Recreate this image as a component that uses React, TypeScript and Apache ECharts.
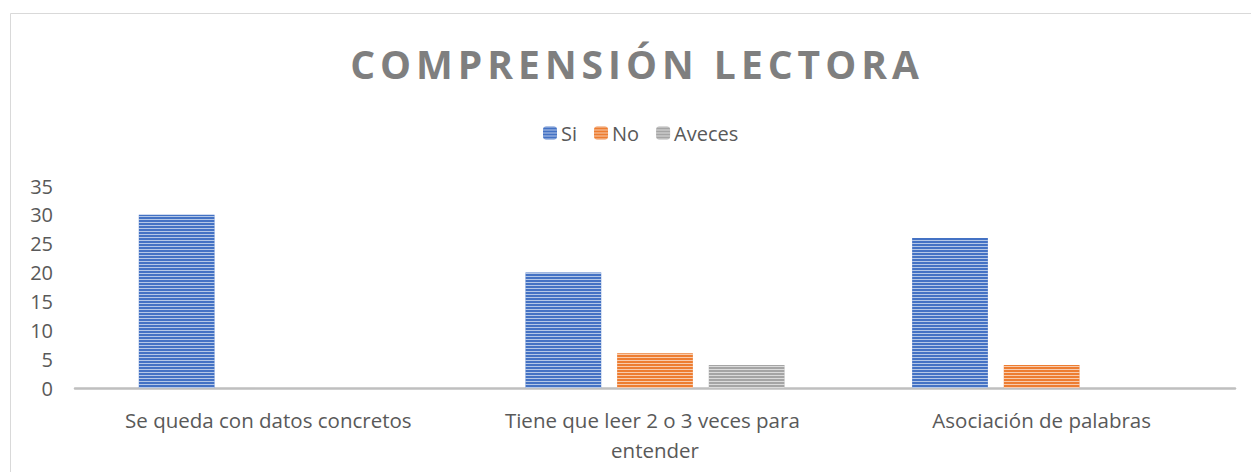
import React, { useEffect, useRef } from "react";
import * as echarts from "echarts";

const TITLE = "COMPRENSIÓN LECTORA";
const categories = [
  "Se queda con datos concretos",
  "Tiene que leer 2 o 3 veces para entender",
  "Asociación de palabras",
];
const seriesNames = ["Si", "No", "Aveces"];
const siValues = [30, 20, 26];
const noValues = [0, 6, 4];
const avecesValues = [0, 4, 0];
const seriesColors = ["#4472c4", "#ed7d31", "#a5a5a5"];
const yTicks = { min: 0, max: 35, interval: 5 };

const FONT = "'Open Sans', sans-serif";

export default function App() {
  const ref = useRef<HTMLDivElement>(null);
  useEffect(() => {
    document.body.style.margin = "0";
    if (!ref.current) return;
    const chart = echarts.init(ref.current, undefined, { renderer: "svg" });
    const decal = {
      symbol: "rect",
      symbolSize: 1,
      dashArrayX: [1, 0],
      dashArrayY: [1, 2],
      color: "rgba(255,255,255,0.6)",
      rotation: 0,
    };
    const values = [siValues, noValues, avecesValues];
    chart.setOption({
      animation: false,
      backgroundColor: "#ffffff",
      graphic: [
        {
          type: "rect",
          shape: { x: 10.5, y: 13.5, width: 1400, height: 600 },
          style: { fill: "none", stroke: "#d9d9d9", lineWidth: 1 },
          silent: true,
        },
        {
          type: "text",
          x: 637,
          y: 63,
          style: {
            text: TITLE,
            fontFamily: FONT,
            fontSize: 39,
            fontWeight: "bold",
            fill: "#7f7f7f",
            textAlign: "center",
            textVerticalAlign: "middle",
          },
        },
      ],
      legend: {
        left: 538,
        top: 118,
        itemWidth: 14,
        itemHeight: 13,
        itemGap: 17,
        textStyle: { fontFamily: FONT, fontSize: 20, color: "#595959", padding: [0, 0, 0, -1] },
        data: seriesNames,
      },
      grid: { left: 75, right: 16, top: 186, bottom: 84 },
      xAxis: {
        type: "category",
        data: categories,
        axisLine: { lineStyle: { color: "#bfbfbf", width: 2.5 } },
        axisTick: { show: false },
        axisLabel: {
          fontFamily: FONT,
          fontSize: 20.5,
          color: "#595959",
          margin: 17,
          lineHeight: 30,
          width: 345,
          overflow: "break",
          interval: 0,
        },
      },
      yAxis: {
        type: "value",
        min: yTicks.min,
        max: yTicks.max,
        interval: yTicks.interval,
        axisLine: { show: false },
        axisTick: { show: false },
        splitLine: { show: false },
        axisLabel: { fontFamily: FONT, fontSize: 20, color: "#595959", margin: 22 },
      },
      series: seriesNames.map((name, i) => ({
        name,
        type: "bar",
        data: values[i],
        barGap: "21%",
        barCategoryGap: "33%",
        itemStyle: { color: seriesColors[i], decal },
      })),
    });
    const texts = ref.current.querySelectorAll("text");
    texts.forEach((t) => {
      if (t.textContent === TITLE) {
        t.setAttribute("letter-spacing", "5");
      }
    });
    return () => chart.dispose();
  }, []);
  return <div ref={ref} style={{ width: 1251, height: 472 }} />;
}
